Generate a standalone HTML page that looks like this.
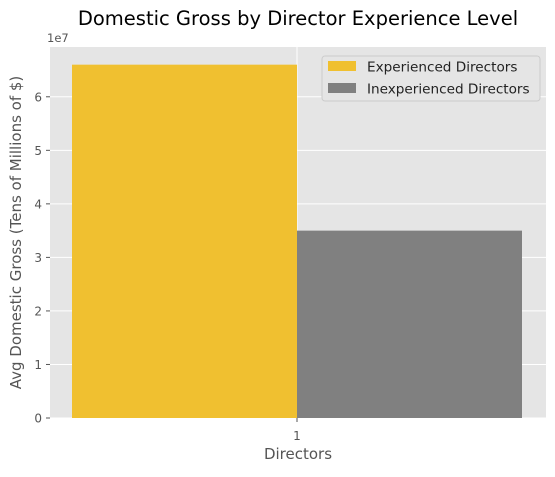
<!DOCTYPE html>
<html><head><meta charset="utf-8"><style>
body{margin:0;background:#fff;font-family:"Liberation Sans","DejaVu Sans",sans-serif;}
</style></head><body>
<svg width="555" height="472" xmlns="http://www.w3.org/2000/svg" font-family="DejaVu Sans, Liberation Sans, sans-serif">
<g id="root"></g>
</svg>
<script>
const categories = ["1"];
const seriesNames = ["Experienced Directors","Inexperienced Directors"];
const experienced = [66000000];
const inexperienced = [35000000];
const yTicks = [0,1,2,3,4,5,6];
const colors = ["#f0c030","#808080"];
const NS="http://www.w3.org/2000/svg";
const root=document.getElementById('root');
const L=50,R=546,T=47,B=418;
const yMax=6.93e7;
const y=v=>B-(v/yMax)*(B-T);
const x=v=>297+(v-1)*562.5;
function el(tag,attrs,parent){const e=document.createElementNS(NS,tag);for(const k in attrs)e.setAttribute(k,attrs[k]);(parent||root).appendChild(e);return e;}
const bg=el('rect',{x:L,y:T,width:R-L,height:B-T,fill:'#e5e5e5'});


yTicks.forEach(t=>{
  const g=el('line',{x1:L,x2:R,y1:y(t*1e7),y2:y(t*1e7),stroke:'#fff','stroke-width':1});
  
  
  el('line',{x1:L-4,x2:L,y1:y(t*1e7),y2:y(t*1e7),stroke:'#555'});
  const tx=el('text',{x:L-8,y:y(t*1e7)+4.5,'text-anchor':'end','font-size':12,fill:'#555'});
  tx.textContent=t;
  
  
});
categories.forEach((c,i)=>{
  const cx=1+i;
  const gl=el('line',{x1:x(cx),x2:x(cx),y1:T,y2:B,stroke:'#fff'});
  
  
  const w=0.4;
  const b1=el('rect',{x:x(cx-w),y:y(experienced[i]),width:x(cx)-x(cx-w),height:B-y(experienced[i]),fill:colors[0]});
  
  
  const b2=el('rect',{x:x(cx),y:y(inexperienced[i]),width:x(cx+w)-x(cx),height:B-y(inexperienced[i]),fill:colors[1]});
  
  
  el('line',{x1:x(cx),x2:x(cx),y1:B,y2:B+4,stroke:'#555'});
  const tl=el('text',{x:x(cx),y:B+22,'text-anchor':'middle','font-size':12,fill:'#555'});
  tl.textContent=c;
  
  
});
const off=el('text',{x:L-3,y:T-5,'font-size':11.5,fill:'#555'});off.textContent='1e7';


const title=el('text',{x:(L+R)/2,y:25,'text-anchor':'middle','font-size':19.5,fill:'#000'});
title.textContent='Domestic Gross by Director Experience Level';


const xt=el('text',{x:(L+R)/2,y:459,'text-anchor':'middle','font-size':15,fill:'#555'});
xt.textContent='Directors';


const yt=el('text',{x:0,y:0,'text-anchor':'middle','font-size':15,fill:'#555',transform:`translate(21,${(T+B)/2}) rotate(-90)`});
yt.textContent='Avg Domestic Gross (Tens of Millions of $)';


const lg=el('g',{});


el('rect',{x:322,y:56,width:218,height:45,fill:'#e5e5e5',stroke:'#ccc',rx:3},lg);
seriesNames.forEach((n,i)=>{
  const e=el('g',{},lg);
  
  
  el('rect',{x:328,y:61+i*22,width:28,height:10,fill:colors[i]},e);
  const t=el('text',{x:367,y:71.5+i*22,'font-size':13.6,fill:'#222'},e);
  t.textContent=n;
});
</script>
</body></html>
